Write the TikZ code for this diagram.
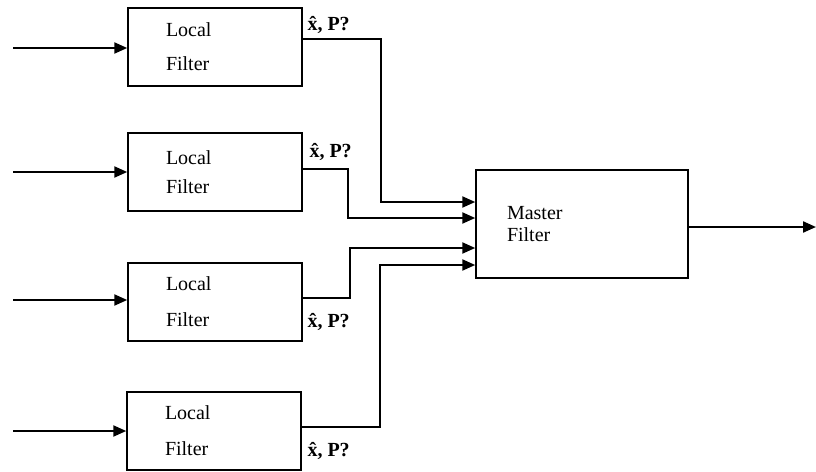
\documentclass[tikz,border=0pt]{standalone}
\usepackage{fontspec}
\setmainfont{Liberation Serif}
\usetikzlibrary{arrows.meta}

\tikzset{
    filt/.style={draw, line width=1.5pt, align=left, inner xsep=38pt,
        text width=98pt, minimum height=78pt, font=\fontsize{20}{22}\selectfont},
    link/.style={line width=2.2pt, -{Triangle[length=13pt,width=11pt]}},
    est/.style={anchor=west, font=\fontsize{20}{22}\selectfont\bfseries}
}

\begin{document}
\begin{tikzpicture}[x=1pt,y=-1pt]
    \useasboundingbox (0,0) rectangle (816,471);
    % local filters
    \node[filt] (lf1) at (215,47) {Local\\[12pt]Filter};
    \node[filt] (lf2) at (215,172) {Local\\[7pt]Filter};
    \node[filt] (lf3) at (215,302) {Local\\[14pt]Filter};
    \node[filt] (lf4) at (214,431) {Local\\[14pt]Filter};
    % master filter
    \node[filt, text width=150pt, inner xsep=31pt, minimum height=108pt]
        (ms) at (582,224) {Master\\[0pt]Filter};
    % inputs
    \foreach \i/\y in {1/48, 2/172, 3/300, 4/431} {
        \coordinate (in\i) at (13,\y);
        \draw[link] (in\i) -- (lf\i.west |- in\i);
    }
    % ports on the master filter
    \coordinate (m1) at ([yshift=22pt]ms.west);
    \coordinate (m2) at ([yshift=6pt]ms.west);
    \coordinate (m3) at ([yshift=-24pt]ms.west);
    \coordinate (m4) at ([yshift=-41pt]ms.west);
    \draw[link] ([yshift=8pt]lf1.east) -- ++(78,0) |- (m1);
    \draw[link] ([yshift=3pt]lf2.east) -- ++(45,0) |- (m2);
    \draw[link] ([yshift=4pt]lf3.east) -- ++(47,0) |- (m3);
    \draw[link] ([yshift=4pt]lf4.east) -- ++(78,0) |- (m4);
    % estimates
    \node[est] (e1) at (304,25) {\^x, P?};
    \node[est] (e2) at (306,152) {\^x, P?};
    \node[est] (e3) at (304,322) {\^x, P?};
    \node[est] (e4) at (304,451) {\^x, P?};
    % output
    \coordinate (out) at (816,227);
    \draw[link] ([yshift=-3pt]ms.east) -- (out);
\end{tikzpicture}
\end{document}
